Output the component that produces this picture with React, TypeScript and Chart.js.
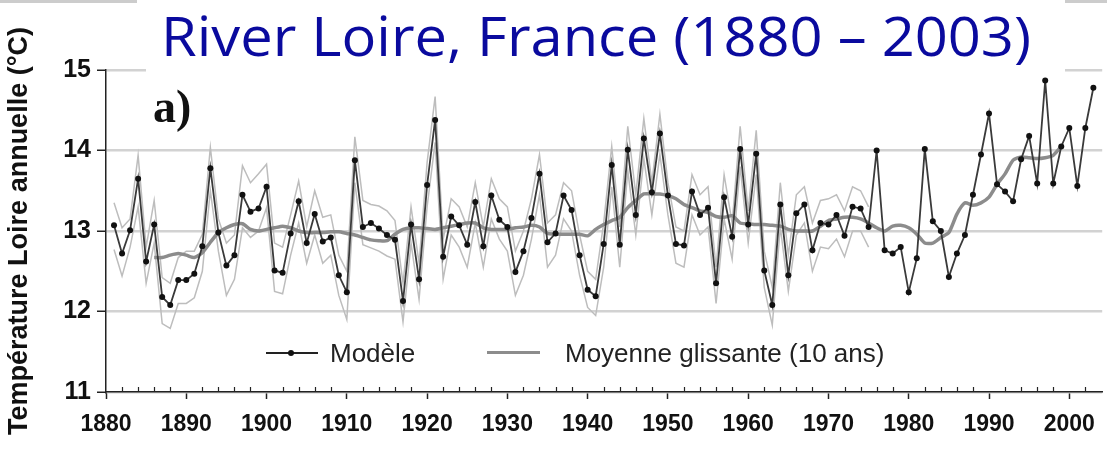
import React, { useEffect, useRef } from "react";
import { Chart, registerables } from "chart.js";

Chart.register(...registerables);

// Years of the simulated series (1881 - 2003)
const years = [
  1881, 1882, 1883, 1884, 1885, 1886, 1887, 1888, 1889, 1890,
  1891, 1892, 1893, 1894, 1895, 1896, 1897, 1898, 1899, 1900,
  1901, 1902, 1903, 1904, 1905, 1906, 1907, 1908, 1909, 1910,
  1911, 1912, 1913, 1914, 1915, 1916, 1917, 1918, 1919, 1920,
  1921, 1922, 1923, 1924, 1925, 1926, 1927, 1928, 1929, 1930,
  1931, 1932, 1933, 1934, 1935, 1936, 1937, 1938, 1939, 1940,
  1941, 1942, 1943, 1944, 1945, 1946, 1947, 1948, 1949, 1950,
  1951, 1952, 1953, 1954, 1955, 1956, 1957, 1958, 1959, 1960,
  1961, 1962, 1963, 1964, 1965, 1966, 1967, 1968, 1969, 1970,
  1971, 1972, 1973, 1974, 1975, 1976, 1977, 1978, 1979, 1980,
  1981, 1982, 1983, 1984, 1985, 1986, 1987, 1988, 1989, 1990,
  1991, 1992, 1993, 1994, 1995, 1996, 1997, 1998, 1999, 2000,
  2001, 2002, 2003,
];

// "Modèle" – annual Loire temperature (°C)
const modelTemps = [
  13.07, 12.72, 13.01, 13.65, 12.62, 13.08, 12.18, 12.08, 12.39, 12.39,
  12.47, 12.81, 13.78, 12.98, 12.57, 12.70, 13.45, 13.24, 13.28, 13.55,
  12.51, 12.48, 12.97, 13.37, 12.85, 13.21, 12.87, 12.92, 12.45, 12.24,
  13.88, 13.05, 13.10, 13.03, 12.95, 12.89, 12.13, 13.08, 12.40, 13.57,
  14.38, 12.68, 13.18, 13.07, 12.83, 13.36, 12.81, 13.44, 13.14, 13.05,
  12.49, 12.75, 13.16, 13.71, 12.86, 12.97, 13.44, 13.26, 12.70, 12.27,
  12.19, 12.84, 13.82, 12.83, 14.01, 13.20, 14.15, 13.48, 14.21, 13.44,
  12.84, 12.82, 13.49, 13.20, 13.29, 12.35, 13.42, 12.93, 14.02, 13.08,
  13.96, 12.51, 12.08, 13.33, 12.45, 13.22, 13.33, 12.76, 13.10, 13.08,
  13.20, 12.94, 13.30, 13.28, 13.05, 14.00, 12.76, 12.72, 12.80, 12.24,
  12.66, 14.02, 13.12, 13.00, 12.43, 12.72, 12.95, 13.45, 13.95, 14.46,
  13.58, 13.49, 13.37, 13.89, 14.18, 13.59, 14.87, 13.59, 14.05, 14.28,
  13.56, 14.28, 14.78,
];

// "Moyenne glissante (10 ans)"
const movingAverage = [
  null, null, null, null, null, 12.67, 12.67, 12.70, 12.72, 12.70,
  12.67, 12.73, 12.86, 12.98, 13.04, 13.08, 13.09, 13.02, 13.0, 13.02,
  13.04, 13.06, 13.04, 13.0, 12.98, 12.98, 12.98, 12.99, 12.99, 12.97,
  12.95, 12.92, 12.89, 12.88, 12.88, 12.96, 13.02, 13.04, 13.04, 13.03,
  13.02, 13.04, 13.06, 13.08, 13.1, 13.1, 13.04, 13.02, 13.02, 13.02,
  13.04, 13.05, 13.07, 13.05, 12.97, 12.96, 12.96, 12.96, 12.96, 12.94,
  13.02, 13.08, 13.13, 13.17, 13.29, 13.38, 13.46, 13.46, 13.46, 13.44,
  13.4, 13.33, 13.29, 13.25, 13.23, 13.18, 13.17, 13.19, 13.1, 13.09,
  13.08, 13.08, 13.07, 13.06, 13.02, 13.0, 13.0, 13.0, 13.06, 13.13,
  13.15, 13.17, 13.17, 13.15, 13.1, 13.04, 13.0, 13.06, 13.07, 13.04,
  12.96, 12.85, 12.85, 12.92, 12.98, 13.21, 13.35, 13.32, 13.35, 13.42,
  13.58, 13.71, 13.88, 13.92, 13.91, 13.9, 13.91, 13.94, 14.05, null,
  null, null, null,
];

// Light grey envelope curves (1881 - 1975)
const upperBand = [
  13.35, 13.04, 13.15, 13.94, 12.80, 13.38, 12.42, 12.35, 12.67, 12.75,
  12.75, 12.96, 14.04, 13.15, 12.85, 12.95, 13.81, 13.60, 13.71, 13.83,
  12.85, 12.80, 13.20, 13.62, 13.05, 13.50, 13.17, 13.20, 12.70, 12.50,
  14.17, 13.38, 13.33, 13.31, 13.25, 13.13, 12.35, 13.30, 12.60, 13.85,
  14.67, 12.90, 13.40, 13.30, 13.05, 13.60, 13.05, 13.65, 13.40, 13.30,
  12.75, 13.00, 13.40, 13.95, 13.10, 13.20, 13.60, 13.50, 12.95, 12.50,
  12.40, 13.10, 14.05, 13.05, 14.30, 13.45, 14.40, 13.60, 14.45, 13.60,
  13.05, 13.00, 13.70, 13.45, 13.55, 12.55, 13.70, 13.10, 14.30, 13.25,
  14.25, 12.75, 12.30, 13.60, 12.70, 13.45, 13.55, 13.10, 13.38, 13.40,
  13.45, 13.25, 13.55, 13.50, 13.30,
];
const lowerBand = [
  12.77, 12.44, 12.80, 13.30, 12.35, 12.85, 11.85, 11.79, 12.10, 12.10,
  12.17, 12.50, 13.50, 12.75, 12.20, 12.40, 13.04, 12.92, 13.00, 13.29,
  12.25, 12.22, 12.70, 13.10, 12.60, 12.95, 12.60, 12.70, 12.20, 11.90,
  13.60, 12.83, 12.79, 12.75, 12.69, 12.65, 11.87, 12.85, 12.15, 13.30,
  14.10, 12.40, 12.95, 12.80, 12.55, 13.10, 12.55, 13.15, 12.90, 12.75,
  12.20, 12.45, 12.90, 13.45, 12.55, 12.70, 13.15, 13.00, 12.45, 12.05,
  11.95, 12.55, 13.55, 12.55, 13.75, 12.95, 13.90, 13.20, 13.95, 13.20,
  12.60, 12.55, 13.20, 12.95, 13.05, 12.10, 13.15, 12.65, 13.80, 12.85,
  13.70, 12.30, 11.83, 13.05, 12.25, 12.95, 13.10, 12.50, 12.80, 12.78,
  12.90, 12.68, 13.00, 13.00, 12.80,
];

const titleText = "River Loire, France (1880 – 2003)";
const panelLabel = "a)";
const yAxisTitle = "Température Loire annuelle (°C)";
const legendModel = "Modèle";
const legendMean = "Moyenne glissante (10 ans)";

const toPoints = (vals: (number | null)[]) =>
  vals
    .map((v, i) => ({ x: years[i], y: v }))
    .filter((p) => p.y !== null && p.y !== undefined);

const minorTicksPlugin = {
  id: "minorTicks",
  afterDraw(chart: any) {
    const xs = chart.scales.x;
    const ctx = chart.ctx;
    ctx.save();
    ctx.strokeStyle = "#222";
    ctx.lineWidth = 1.2;
    for (let v = 1882; v < 2004; v += 2) {
      if (v % 10 === 0) continue;
      const p = Math.round(xs.getPixelForValue(v)) + 0.5;
      ctx.beginPath();
      ctx.moveTo(p, xs.top);
      ctx.lineTo(p, xs.top - 5);
      ctx.stroke();
    }
    ctx.restore();
  },
};

const sansFont = "'Liberation Sans', Arial, Helvetica, sans-serif";

export default function App() {
  const canvasRef = useRef<HTMLCanvasElement | null>(null);
  const titleRef = useRef<HTMLSpanElement | null>(null);

  useEffect(() => {
    const t = titleRef.current;
    if (t) {
      t.style.transform = "none";
      const w = t.getBoundingClientRect().width;
      if (w > 0) t.style.transform = `scaleX(${870 / w})`;
    }
    const canvas = canvasRef.current;
    if (!canvas) return;
    const chart = new Chart(canvas, {
      type: "line",
      data: {
        datasets: [
          {
            label: legendModel,
            data: toPoints(modelTemps),
            borderColor: "#3a3a3a",
            borderWidth: 1.8,
            pointRadius: 3,
            pointBackgroundColor: "#111",
            pointBorderWidth: 0,
            tension: 0,
            order: 0,
          },
          {
            label: legendMean,
            data: toPoints(movingAverage),
            borderColor: "#8c8c8c",
            borderWidth: 3.5,
            pointRadius: 0,
            tension: 0.2,
            order: 1,
          },
          {
            label: "upper",
            data: toPoints(upperBand),
            borderColor: "#bdbdbd",
            borderWidth: 1.5,
            pointRadius: 0,
            tension: 0,
            order: 2,
          },
          {
            label: "lower",
            data: toPoints(lowerBand),
            borderColor: "#bdbdbd",
            borderWidth: 1.5,
            pointRadius: 0,
            tension: 0,
            order: 3,
          },
        ],
      },
      options: {
        responsive: false,
        animation: false,
        devicePixelRatio: 1,
        layout: { padding: { top: 70, left: 0, right: 0, bottom: 0 } },
        plugins: {
          legend: { display: false },
          tooltip: { enabled: false },
          title: { display: false },
        },
        scales: {
          x: {
            type: "linear",
            min: 1880,
            max: 2004.1,
            afterFit: (s: any) => {
              s.height = 59;
            },
            ticks: {
              stepSize: 10,
              includeBounds: false,
              autoSkip: false,
              maxRotation: 0,
              padding: 12,
              color: "#111",
              font: { family: sansFont, size: 23, weight: "bold" },
              callback: (v: any) => String(v),
            },
            grid: {
              drawOnChartArea: false,
              drawTicks: true,
              tickLength: 7,
              tickColor: "#222",
              tickWidth: 1.5,
            },
            border: { color: "#222", width: 1.5 },
          },
          y: {
            min: 11,
            max: 15,
            afterFit: (s: any) => {
              s.width = 106;
            },
            ticks: {
              stepSize: 1,
              padding: 6,
              color: "#111",
              font: { family: sansFont, size: 25, weight: "bold" },
            },
            grid: {
              color: "#d2d2d2",
              lineWidth: 2.5,
              tickColor: "#222",
              tickLength: 9,
              tickWidth: 1.5,
            },
            border: { color: "#222", width: 1.5 },
            title: {
              display: true,
              text: yAxisTitle,
              color: "#111",
              font: { family: sansFont, size: 27, weight: "bold" },
              padding: { top: 3, bottom: 0 },
            },
          },
        },
      },
      plugins: [minorTicksPlugin],
    });
    return () => chart.destroy();
  }, []);

  return (
    <div
      style={{
        position: "absolute",
        left: 0,
        top: 0,
        width: 1107,
        height: 451,
        background: "#fff",
        overflow: "hidden",
      }}
    >
      <canvas
        ref={canvasRef}
        width={1107}
        height={451}
        style={{ position: "absolute", left: 0, top: 0, width: 1107, height: 451 }}
      />
      <div style={{ position: "absolute", left: 0, top: 0, width: 137, height: 3, background: "#cccccc" }} />
      <div style={{ position: "absolute", left: 1065, top: 0, width: 42, height: 3, background: "#cccccc" }} />
      <div
        style={{
          position: "absolute",
          left: 146,
          top: 0,
          width: 919,
          height: 74,
          background: "#fff",
        }}
      >
        <span
          ref={titleRef}
          style={{
            position: "absolute",
            left: 15,
            top: 7,
            fontFamily: "'Open Sans', 'Noto Sans', sans-serif",
            fontSize: 55,
            lineHeight: "55px",
            color: "#0a0a9e",
            whiteSpace: "nowrap",
            transformOrigin: "0 0",
          }}
        >
          {titleText}
        </span>
      </div>
      <div
        style={{
          position: "absolute",
          left: 153,
          top: 84,
          fontFamily: "'Liberation Serif', 'Times New Roman', serif",
          fontWeight: "bold",
          fontSize: 46,
          lineHeight: "46px",
          color: "#111",
        }}
      >
        {panelLabel}
      </div>
      {/* legend */}
      <div style={{ position: "absolute", left: 266, top: 352, width: 52, height: 1.6, background: "#222" }} />
      <div style={{ position: "absolute", left: 288, top: 350, width: 6, height: 6, borderRadius: 3, background: "#111" }} />
      <div
        style={{
          position: "absolute",
          left: 330,
          top: 340,
          fontFamily: sansFont,
          fontSize: 26,
          lineHeight: "26px",
          color: "#222",
          whiteSpace: "nowrap",
        }}
      >
        {legendModel}
      </div>
      <div style={{ position: "absolute", left: 487, top: 351, width: 53, height: 3, background: "#8c8c8c" }} />
      <div
        style={{
          position: "absolute",
          left: 565,
          top: 340,
          fontFamily: sansFont,
          fontSize: 26,
          lineHeight: "26px",
          color: "#222",
          whiteSpace: "nowrap",
        }}
      >
        {legendMean}
      </div>
    </div>
  );
}
